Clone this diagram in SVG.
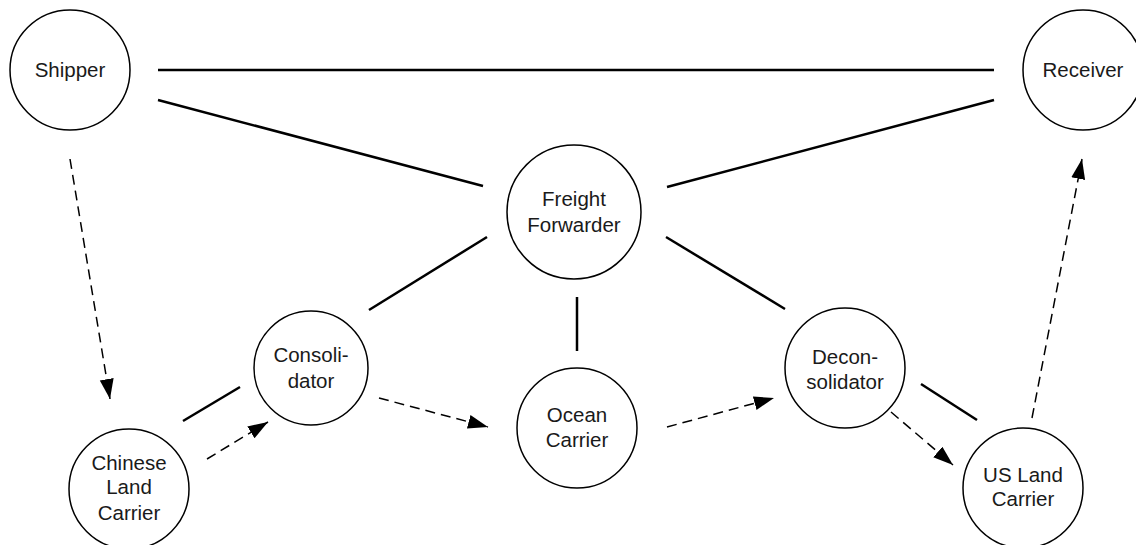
<svg xmlns="http://www.w3.org/2000/svg" width="1136" height="545" viewBox="0 0 1136 545">
  <style>
    .node circle { fill: #ffffff; stroke: #000000; stroke-width: 1.5; }
    .node text { font-family: "Liberation Sans", Arial, sans-serif; font-size: 20.5px; fill: #1a1a1a; text-anchor: middle; }
    .link { stroke: #000000; stroke-width: 2.5; fill: none; }
    .flow { stroke: #000000; stroke-width: 1.5; fill: none; stroke-dasharray: 10 6; marker-end: url(#arrow); }
  </style>
  <defs>
    <marker id="arrow" markerUnits="userSpaceOnUse" markerWidth="21" markerHeight="15" refX="20" refY="7" orient="auto">
      <path d="M0,0 L20,7 L0,14 z" fill="#000000"/>
    </marker>
  </defs>
  <rect width="1136" height="545" fill="#ffffff"/>

  <!-- connectors: solid = relationships, dashed = goods flow -->
  <g id="connectors">
    <line class="link" x1="158" y1="70" x2="994" y2="70"/>
    <line class="link" x1="158" y1="100" x2="483" y2="186"/>
    <line class="link" x1="994" y1="100" x2="667" y2="187"/>
    <line class="link" x1="487" y1="237" x2="369" y2="310"/>
    <line class="link" x1="577" y1="297" x2="577" y2="351"/>
    <line class="link" x1="666" y1="237" x2="785" y2="309"/>
    <line class="link" x1="183" y1="421" x2="240" y2="387"/>
    <line class="link" x1="921" y1="384" x2="977" y2="420"/>

    <line class="flow" x1="70" y1="159" x2="110" y2="399"/>
    <line class="flow" x1="207" y1="459" x2="268" y2="422"/>
    <line class="flow" x1="379" y1="398" x2="488" y2="427"/>
    <line class="flow" x1="667" y1="427" x2="774" y2="398"/>
    <line class="flow" x1="891" y1="412" x2="953" y2="465"/>
    <line class="flow" x1="1032" y1="418" x2="1082" y2="159"/>
  </g>

  <g id="shipper" class="node">
    <circle cx="70" cy="70" r="60"/>
    <text x="70" y="77">Shipper</text>
  </g>
  <g id="receiver" class="node">
    <circle cx="1083" cy="70" r="60"/>
    <text x="1083" y="77">Receiver</text>
  </g>
  <g id="freight-forwarder" class="node">
    <circle cx="574" cy="212" r="67"/>
    <text x="574" y="206">Freight</text>
    <text x="574" y="232">Forwarder</text>
  </g>
  <g id="consolidator" class="node">
    <circle cx="311" cy="368" r="57"/>
    <text x="311" y="362">Consoli-</text>
    <text x="311" y="388">dator</text>
  </g>
  <g id="ocean-carrier" class="node">
    <circle cx="577" cy="428" r="60"/>
    <text x="577" y="422">Ocean</text>
    <text x="577" y="447">Carrier</text>
  </g>
  <g id="deconsolidator" class="node">
    <circle cx="845" cy="368" r="60"/>
    <text x="845" y="364">Decon-</text>
    <text x="845" y="389">solidator</text>
  </g>
  <g id="chinese-land-carrier" class="node">
    <circle cx="129" cy="489" r="60"/>
    <text x="129" y="470">Chinese</text>
    <text x="129" y="494">Land</text>
    <text x="129" y="520">Carrier</text>
  </g>
  <g id="us-land-carrier" class="node">
    <circle cx="1023" cy="488" r="60"/>
    <text x="1023" y="482">US Land</text>
    <text x="1023" y="506">Carrier</text>
  </g>
</svg>
